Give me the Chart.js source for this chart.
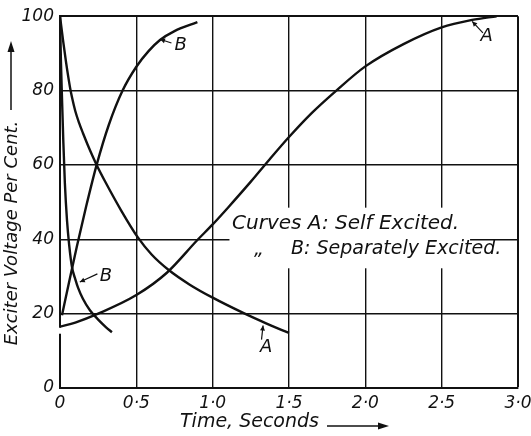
<!DOCTYPE html>
<html>
<head>
<meta charset="utf-8">
<script src="https://cdn.jsdelivr.net/npm/chart.js@4.4.1/dist/chart.umd.min.js"></script>
<style>
  body { margin: 0; background: #fff; }
  canvas { display: block; }
</style>
</head>
<body>
<canvas id="lineChart" width="531" height="436"></canvas>
<script>
// time in seconds, voltage in per cent
var aRiseTime = [0, 0.1, 0.25, 0.5, 0.7, 0.9, 1.0, 1.1, 1.25, 1.375, 1.5, 1.65, 1.81, 2.0, 2.25, 2.5, 2.7, 2.86];
var aRiseVolts = [16.5, 17.6, 20, 25, 31, 39.8, 44, 48.5, 55.5, 61.6, 67.5, 74, 80, 86.5, 92.5, 97, 99, 100];

var aFallTime = [0, 0.02, 0.04, 0.065, 0.08, 0.1, 0.125, 0.15, 0.2, 0.24, 0.3, 0.4, 0.51, 0.6, 0.71, 0.85, 1.0, 1.2, 1.35, 1.5];
var aFallVolts = [100, 93.5, 87.5, 81, 77.9, 74.5, 71.3, 68.6, 63.6, 60, 55.2, 47.8, 40.5, 35.9, 31.8, 27.8, 24.3, 20.2, 17.4, 14.8];

var bRiseTime = [0.013, 0.06, 0.11, 0.17, 0.24, 0.32, 0.41, 0.5, 0.58, 0.655, 0.75, 0.9];
var bRiseVolts = [19.6, 28.6, 38, 48.6, 60, 70.8, 80, 86.4, 90.6, 93.6, 96, 98.4];

var bFallTime = [0, 0.006, 0.013, 0.022, 0.032, 0.046, 0.06, 0.079, 0.1, 0.118, 0.15, 0.196, 0.25, 0.3, 0.34];
var bFallVolts = [100, 88, 78, 66, 55, 45, 38.5, 32.4, 29.3, 27, 24, 20.9, 18.4, 16.4, 15];

var timeTicks = [0, 0.5, 1.0, 1.5, 2.0, 2.5, 3.0];
var voltTicks = [0, 20, 40, 60, 80, 100];

// curve letters: [text, labelT, labelV, arrowFromT, arrowFromV, arrowToT, arrowToV]
var curveLabels = [
  ["B", 0.79, 92.2, 0.73, 92.8, 0.655, 93.8],
  ["A", 2.795, 94.5, 2.77, 95.5, 2.70, 98.6],
  ["B", 0.30, 30.0, 0.245, 30.7, 0.13, 28.5],
  ["A", 1.35, 11.0, 1.32, 13.0, 1.33, 16.8]
];

var fontFamily = "'DejaVu Sans', sans-serif";

function toPoints(xs, ys) {
  var pts = [];
  for (var i = 0; i < xs.length; i++) {
    pts.push({ x: xs[i], y: ys[i] });
  }
  return pts;
}

function curve(label, xs, ys) {
  return {
    label: label,
    data: toPoints(xs, ys),
    borderColor: "#111",
    borderWidth: 2.4,
    pointRadius: 0,
    cubicInterpolationMode: "monotone",
    fill: false,
  };
}

function arrowHead(ctx, x1, y1, x2, y2, len, half) {
  var ang = Math.atan2(y2 - y1, x2 - x1);
  ctx.beginPath();
  ctx.moveTo(x2, y2);
  ctx.lineTo(x2 - len * Math.cos(ang) + half * Math.sin(ang), y2 - len * Math.sin(ang) - half * Math.cos(ang));
  ctx.lineTo(x2 - len * Math.cos(ang) - half * Math.sin(ang), y2 - len * Math.sin(ang) + half * Math.cos(ang));
  ctx.closePath();
  ctx.fill();
}

// notes box, axis titles and curve letters
var notesPlugin = {
  id: "notes",
  beforeDatasetsDraw: function (chart) {
    var ctx = chart.ctx;
    var xs = chart.scales.x;
    var ys = chart.scales.y;
    ctx.save();
    // clear the grid behind the notes
    ctx.fillStyle = "#fff";
    var l = xs.getPixelForValue(1.11);
    var r = xs.getPixelForValue(2.686);
    var t = ys.getPixelForValue(48.5);
    var b = ys.getPixelForValue(32.2);
    ctx.fillRect(l, t, r - l, b - t);
    // small break in the voltage axis
    var gx = xs.getPixelForValue(0);
    ctx.fillRect(gx - 3, ys.getPixelForValue(16.2), 6, ys.getPixelForValue(14.6) - ys.getPixelForValue(16.2));

    ctx.fillStyle = "#111";
    ctx.textBaseline = "middle";
    ctx.textAlign = "left";
    ctx.font = "italic 20px " + fontFamily;
    ctx.fillText("Curves A: Self Excited.", xs.getPixelForValue(1.127), ys.getPixelForValue(44.2));
    ctx.font = "italic 19px " + fontFamily;
    ctx.fillText("\u201E", xs.getPixelForValue(1.27), ys.getPixelForValue(37));
    ctx.fillText("B: Separately Excited.", xs.getPixelForValue(1.513), ys.getPixelForValue(37.3));
    ctx.restore();
  },
  afterDatasetsDraw: function (chart) {
    var ctx = chart.ctx;
    var xs = chart.scales.x;
    var ys = chart.scales.y;
    ctx.save();
    ctx.fillStyle = "#111";
    ctx.strokeStyle = "#111";
    ctx.lineWidth = 1.2;
    ctx.font = "italic 18px " + fontFamily;
    ctx.textAlign = "center";
    ctx.textBaseline = "middle";
    curveLabels.forEach(function (c) {
      ctx.fillText(c[0], xs.getPixelForValue(c[1]), ys.getPixelForValue(c[2]));
      var x1 = xs.getPixelForValue(c[3]), y1 = ys.getPixelForValue(c[4]);
      var x2 = xs.getPixelForValue(c[5]), y2 = ys.getPixelForValue(c[6]);
      ctx.beginPath();
      ctx.moveTo(x1, y1);
      ctx.lineTo(x2, y2);
      ctx.stroke();
      arrowHead(ctx, x1, y1, x2, y2, 5, 2.5);
    });

    // axis titles with their arrows
    ctx.font = "italic 18px " + fontFamily;
    ctx.lineWidth = 1.5;
    ctx.save();
    ctx.translate(12, 233);
    ctx.rotate(-Math.PI / 2);
    ctx.textAlign = "center";
    ctx.fillText("Exciter Voltage Per Cent.", 0, 0);
    ctx.restore();
    ctx.beginPath();
    ctx.moveTo(11, 110);
    ctx.lineTo(11, 48);
    ctx.stroke();
    arrowHead(ctx, 11, 110, 11, 41, 11, 3.5);

    ctx.font = "italic 19px " + fontFamily;
    ctx.textAlign = "left";
    ctx.fillText("Time, Seconds", 180, 422);
    ctx.beginPath();
    ctx.moveTo(327, 426);
    ctx.lineTo(380, 426);
    ctx.stroke();
    arrowHead(ctx, 327, 426, 389, 426, 11, 3.5);
    ctx.restore();
  },
};

function excitationChart() {
  var ctx = document.getElementById("lineChart").getContext("2d");

  var chartData = {
    datasets: [
      curve("A self excited rise", aRiseTime, aRiseVolts),
      curve("A self excited fall", aFallTime, aFallVolts),
      curve("B separately excited rise", bRiseTime, bRiseVolts),
      curve("B separately excited fall", bFallTime, bFallVolts),
    ],
  };

  var chartOptions = {
    responsive: false,
    animation: false,
    layout: {
      padding: { left: 0, top: 15, right: 13, bottom: 0 },
    },
    plugins: {
      legend: { display: false },
      tooltip: { enabled: false },
    },
    scales: {
      x: {
        type: "linear",
        min: 0,
        max: 3,
        afterFit: function (scale) {
          scale.height = 48;
          scale.paddingLeft = 0;
          scale.paddingRight = 13;
        },
        afterBuildTicks: function (scale) {
          scale.ticks = timeTicks.map(function (v) { return { value: v }; });
        },
        ticks: {
          color: "#111",
          padding: 5,
          maxRotation: 0,
          font: { family: fontFamily, size: 17, style: "italic" },
          callback: function (value) {
            return value.toFixed(1).replace(".", "\u00B7").replace("0\u00B70", "0");
          },
        },
        grid: {
          color: "#111",
          drawTicks: false,
          lineWidth: function (c) {
            return c.tick && c.tick.value === 3 ? 2 : 1.4;
          },
        },
        border: { color: "#111", width: 2 },
      },
      y: {
        type: "linear",
        min: 0,
        max: 100,
        afterFit: function (scale) {
          scale.width = 60;
        },
        afterBuildTicks: function (scale) {
          scale.ticks = voltTicks.map(function (v) { return { value: v }; });
        },
        ticks: {
          color: "#111",
          padding: 6,
          font: { family: fontFamily, size: 17, style: "italic" },
        },
        grid: {
          color: "#111",
          drawTicks: false,
          lineWidth: function (c) {
            return c.tick && c.tick.value === 100 ? 2 : 1.4;
          },
        },
        border: { color: "#111", width: 2 },
      },
    },
  };

  new Chart(ctx, {
    type: "line",
    data: chartData,
    options: chartOptions,
    plugins: [notesPlugin],
  });
}

excitationChart();
</script>
</body>
</html>
